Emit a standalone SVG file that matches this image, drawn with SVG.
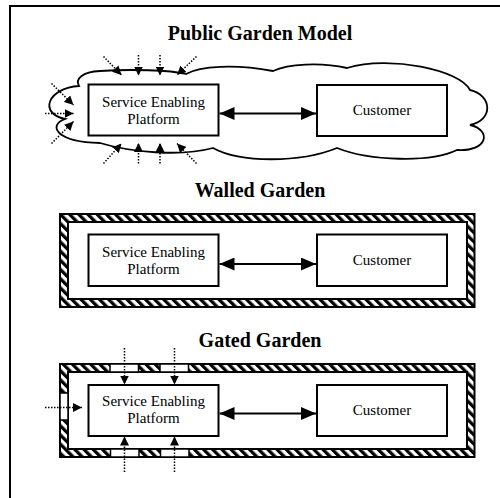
<svg xmlns="http://www.w3.org/2000/svg" width="500" height="498" viewBox="0 0 500 498">
<defs>
<style>
.title{font-family:"Liberation Serif","Times New Roman",serif;font-weight:bold;font-size:20px;text-anchor:middle;fill:#000}
.lbl{font-family:"Liberation Serif","Times New Roman",serif;font-size:15px;text-anchor:middle;fill:#000}
.box{fill:#fff;stroke:#000;stroke-width:2}
.main{stroke:#000;stroke-width:2;fill:none;marker-start:url(#big);marker-end:url(#big)}
.dot{stroke:#000;stroke-width:1.5;stroke-dasharray:1.5 1.5;fill:none;marker-end:url(#small)}
.wall{fill:url(#hatch);stroke:#000;stroke-width:2}
.inner{fill:#fff;stroke:#000;stroke-width:2}
.gate{fill:#fff;stroke:#000;stroke-width:1.5}
</style>
<pattern id="hatch" patternUnits="userSpaceOnUse" width="6.5" height="6.5" patternTransform="rotate(-45)">
<rect width="6.5" height="6.5" fill="#fff"/>
<rect width="3.25" height="6.5" fill="#000"/>
</pattern>
<marker id="big" markerUnits="userSpaceOnUse" markerWidth="15" markerHeight="13" refX="15" refY="6.5" orient="auto-start-reverse">
<path d="M0,0 L15,6.5 L0,13 z" fill="#000"/>
</marker>
<marker id="small" markerUnits="userSpaceOnUse" markerWidth="9" markerHeight="9" refX="9" refY="4.5" orient="auto">
<path d="M0,0 L9,4.5 L0,9 z" fill="#000"/>
</marker>
</defs>
<rect width="500" height="498" fill="#fff"/>
<path d="M10,498 V6 H500" fill="none" stroke="#000" stroke-width="2"/>

<!-- Public garden -->
<text class="title" x="260" y="39.5">Public Garden Model</text>
<g id="public-cloud">
<path d="M186,74 C200,66 235,64 273,71 C288,64 320,62 347,68 C390,55 460,70 470,90 C492,95 494,120 470,125 C492,130 488,152 457,150 C430,163 370,161 337,148 C300,163 240,163 213,148 C180,157 130,152 100,143 C55,142 48,125 65,119 C38,113 48,88 79,86 C75,79 82,72 100,71 C130,69 170,70 186,74 Z" fill="#fff" stroke="#000" stroke-width="1.8" stroke-linejoin="miter"/>
</g>
<g id="public-sep">
<rect class="box" x="88.5" y="84.5" width="130" height="51"/>
<text class="lbl" x="153.5" y="106.5">Service Enabling</text>
<text class="lbl" x="153.5" y="124">Platform</text>
</g>
<g id="public-customer">
<rect class="box" x="317" y="85" width="130" height="51"/>
<text class="lbl" x="382" y="115">Customer</text>
</g>

<!-- Walled garden -->
<text class="title" x="260" y="196.5">Walled Garden</text>
<g id="walled-wall">
<rect class="wall" x="60" y="214" width="414.5" height="93"/>
<rect class="inner" x="68" y="222" width="399" height="77"/>
</g>
<g id="walled-sep">
<rect class="box" x="88.5" y="234.5" width="130" height="51.5"/>
<text class="lbl" x="153.5" y="256.5">Service Enabling</text>
<text class="lbl" x="153.5" y="273.5">Platform</text>
</g>
<g id="walled-customer">
<rect class="box" x="317" y="234.5" width="130" height="51.5"/>
<text class="lbl" x="382" y="265">Customer</text>
</g>

<!-- Gated garden -->
<text class="title" x="260" y="346.5">Gated Garden</text>
<g id="gated-wall">
<rect class="wall" x="60" y="364" width="414.5" height="93"/>
<rect class="inner" x="68" y="372" width="399" height="77"/>
<rect class="gate" x="110" y="364" width="28.5" height="8"/>
<rect class="gate" x="160" y="364" width="28.5" height="8"/>
<rect class="gate" x="110.5" y="449" width="28.5" height="8"/>
<rect class="gate" x="160.5" y="449" width="28.5" height="8"/>
<rect class="gate" x="60" y="393" width="8" height="27"/>
</g>
<g id="gated-sep">
<rect class="box" x="88.5" y="385" width="130" height="51"/>
<text class="lbl" x="153.5" y="406">Service Enabling</text>
<text class="lbl" x="153.5" y="423">Platform</text>
</g>
<g id="gated-customer">
<rect class="box" x="317" y="385" width="130" height="51"/>
<text class="lbl" x="382" y="414.5">Customer</text>
</g>

<g id="connectors">
<line class="main" x1="219.5" y1="113.5" x2="316" y2="113.5"/>
<line class="main" x1="219.5" y1="264" x2="316" y2="264"/>
<line class="main" x1="219.5" y1="413.5" x2="316" y2="413.5"/>

<line class="dot" x1="103.5" y1="56.5" x2="121.5" y2="75"/>
<line class="dot" x1="138.5" y1="55" x2="138.5" y2="75.5"/>
<line class="dot" x1="160" y1="55" x2="160" y2="75.5"/>
<line class="dot" x1="196.5" y1="56.5" x2="177" y2="75"/>
<line class="dot" x1="103.5" y1="163.5" x2="121.5" y2="143.5"/>
<line class="dot" x1="138.5" y1="163.5" x2="138.5" y2="143"/>
<line class="dot" x1="160" y1="163.5" x2="160" y2="143"/>
<line class="dot" x1="196.5" y1="163.5" x2="177" y2="143.5"/>
<line class="dot" x1="51.5" y1="83.5" x2="73.5" y2="105"/>
<line class="dot" x1="45" y1="113.5" x2="73.5" y2="113.5"/>
<line class="dot" x1="51.5" y1="143.5" x2="73.5" y2="121.5"/>

<line class="dot" x1="124.5" y1="348" x2="124.5" y2="384.5"/>
<line class="dot" x1="174.5" y1="348" x2="174.5" y2="384.5"/>
<line class="dot" x1="124.5" y1="472" x2="124.5" y2="436.5"/>
<line class="dot" x1="174.5" y1="472" x2="174.5" y2="436.5"/>
<line class="dot" x1="45" y1="407.5" x2="82" y2="407.5"/>
</g>
</svg>
